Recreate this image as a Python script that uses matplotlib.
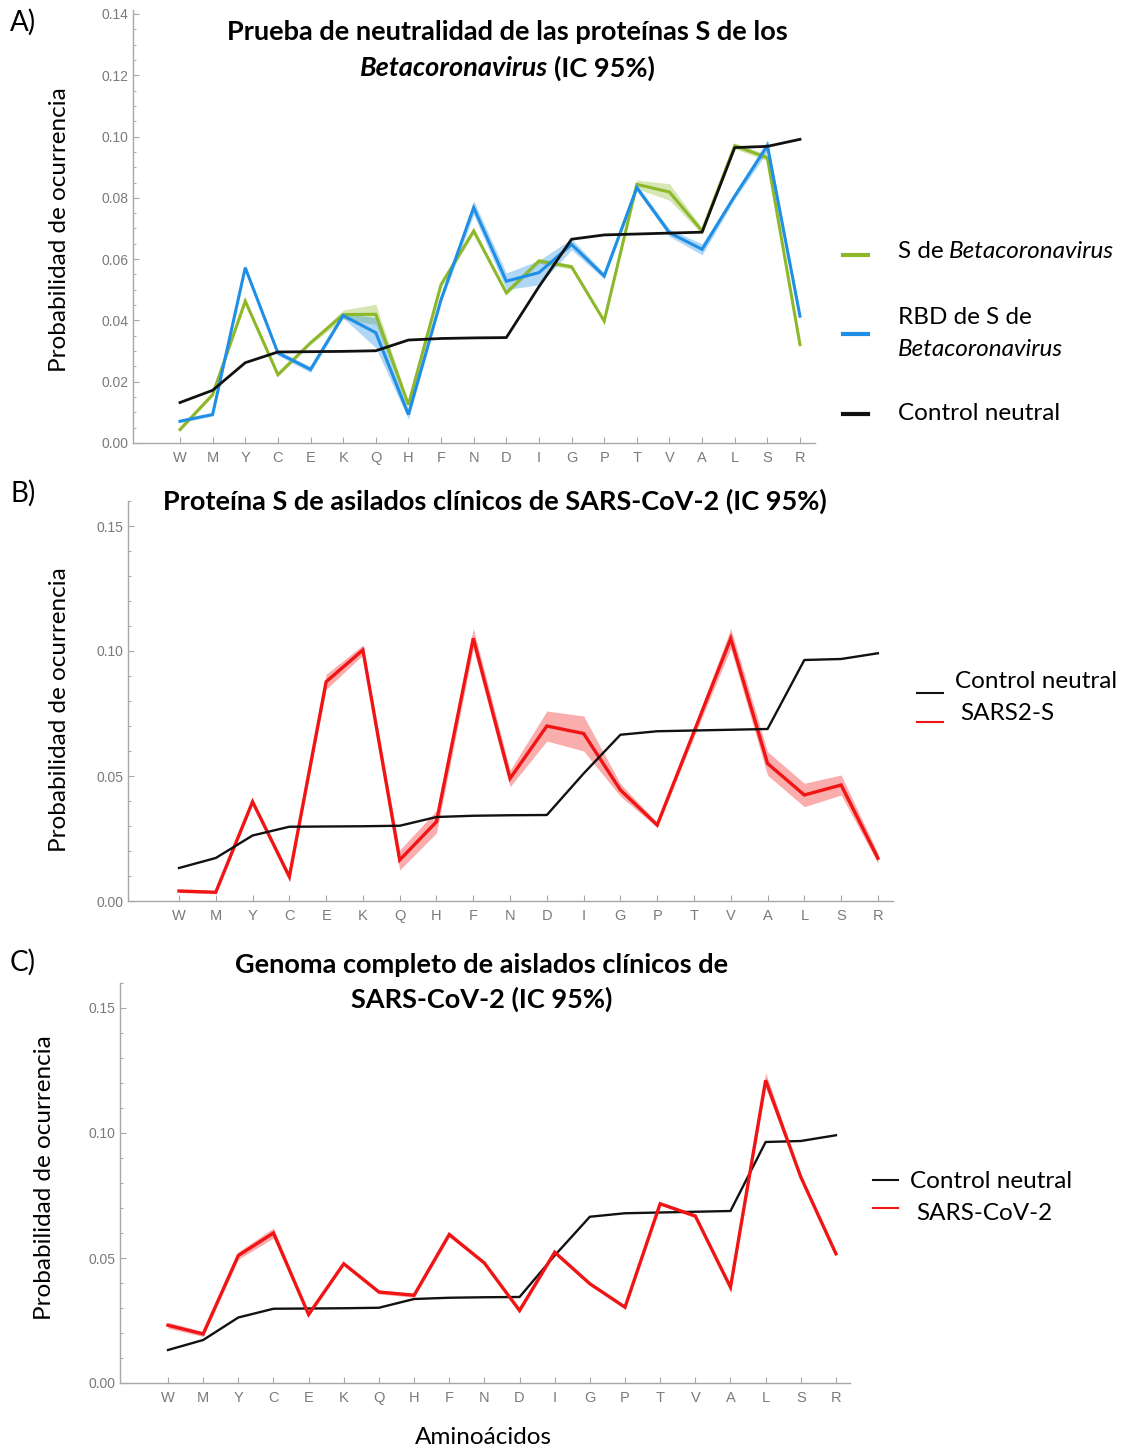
import numpy as np
import matplotlib
matplotlib.use('Agg')
import matplotlib.pyplot as plt
from matplotlib.ticker import MultipleLocator

# amino acids (x axis, same order in the three panels)
aa = ['W', 'M', 'Y', 'C', 'E', 'K', 'Q', 'H', 'F', 'N',
      'D', 'I', 'G', 'P', 'T', 'V', 'A', 'L', 'S', 'R']

# neutral control (same in the three panels)
control = [0.0132, 0.0172, 0.0262, 0.0297, 0.0298, 0.0299, 0.0301, 0.0336, 0.0341, 0.0343,
           0.0344, 0.0510, 0.0665, 0.0679, 0.0682, 0.0685, 0.0688, 0.0964, 0.0968, 0.0991]

# panel A: S of Betacoronavirus and its RBD (mean and CI half width)
beta_s = [0.0044, 0.0158, 0.0463, 0.0223, 0.0327, 0.0419, 0.0420, 0.0125, 0.0517, 0.0692,
          0.0490, 0.0594, 0.0575, 0.0398, 0.0844, 0.0819, 0.0692, 0.0970, 0.0931, 0.0321]
beta_s_ci = [0.0006, 0.0006, 0.0008, 0.0006, 0.0006, 0.0015, 0.0033, 0.0008, 0.0008, 0.0010,
             0.0008, 0.0008, 0.0008, 0.0006, 0.0014, 0.0027, 0.0010, 0.0010, 0.0010, 0.0006]
beta_rbd = [0.0071, 0.0093, 0.0572, 0.0294, 0.0240, 0.0416, 0.0360, 0.0093, 0.0468, 0.0768,
            0.0528, 0.0556, 0.0648, 0.0545, 0.0833, 0.0686, 0.0632, 0.0806, 0.0970, 0.0414]
beta_rbd_ci = [0.0005, 0.0005, 0.0008, 0.0008, 0.0010, 0.0008, 0.0049, 0.0015, 0.0010, 0.0023,
               0.0027, 0.0040, 0.0018, 0.0010, 0.0010, 0.0012, 0.0018, 0.0010, 0.0020, 0.0010]

# panel B: S protein of SARS-CoV-2 clinical isolates
sars2_s = [0.0040, 0.0035, 0.0397, 0.0097, 0.0877, 0.1004, 0.0164, 0.0317, 0.1051, 0.0490,
           0.0700, 0.0670, 0.0444, 0.0304, 0.0677, 0.1050, 0.0550, 0.0424, 0.0464, 0.0171]
sars2_s_ci = [0.0006, 0.0006, 0.0010, 0.0012, 0.0030, 0.0020, 0.0040, 0.0045, 0.0040, 0.0033,
              0.0060, 0.0070, 0.0025, 0.0010, 0.0020, 0.0040, 0.0047, 0.0047, 0.0040, 0.0020]

# panel C: complete genome of SARS-CoV-2 clinical isolates
sars2_g = [0.0231, 0.0196, 0.0510, 0.0600, 0.0274, 0.0477, 0.0364, 0.0351, 0.0594, 0.0480,
           0.0290, 0.0523, 0.0397, 0.0303, 0.0717, 0.0668, 0.0383, 0.1211, 0.0824, 0.0517]
sars2_g_ci = [0.0012, 0.0010, 0.0015, 0.0020, 0.0006, 0.0006, 0.0008, 0.0008, 0.0010, 0.0006,
              0.0008, 0.0008, 0.0006, 0.0004, 0.0006, 0.0008, 0.0008, 0.0030, 0.0010, 0.0008]

W, H = 1137, 1450
fig = plt.figure(figsize=(W / 100, H / 100), dpi=100)
renderer = fig.canvas.get_renderer()

FONT = ['Lato', 'DejaVu Sans']
TICKFONT = ['Liberation Sans', 'DejaVu Sans']
GREEN = '#8cb829'
BLUE = '#1f8fe6'
RED = '#f01414'
BLACK = '#111111'
TITLE_SIZE = 19.5
TEXT_SIZE = 17.5


def px_axes(l, t, r, b):
    return fig.add_axes([l / W, 1 - b / H, (r - l) / W, (b - t) / H])


def rich(x, y, parts, size, weight='normal', center=False):
    # draw text pieces one after the other, pieces are (text, style)
    texts = []
    cur = 0
    gap = size * 1.389 * 0.22
    for s, style in parts:
        t = fig.text(0, 1 - y / H, s, fontsize=size, family=FONT, weight=weight,
                     style=style, va='center', ha='left')
        w = t.get_window_extent(renderer).width
        texts.append((t, cur))
        cur += w + gap
    total = cur - gap
    x0 = x - total / 2 if center else x
    for t, off in texts:
        t.set_x((x0 + off) / W)


def style_axes(ax, xlim, ylim, major, minor):
    ax.set_xlim(*xlim)
    ax.set_ylim(*ylim)
    for s in ['top', 'right']:
        ax.spines[s].set_visible(False)
    for s in ['left', 'bottom']:
        ax.spines[s].set_color('#a8a8a8')
        ax.spines[s].set_linewidth(1.0)
    ax.set_xticks(range(len(aa)))
    ax.set_xticklabels(aa)
    ax.yaxis.set_major_locator(MultipleLocator(major))
    ax.yaxis.set_minor_locator(MultipleLocator(minor))
    ax.yaxis.set_major_formatter(plt.FormatStrFormatter('%.2f'))
    ax.tick_params(direction='in', colors='#a8a8a8', labelcolor='#7a7a7a',
                   labelsize=10, length=4, width=0.8)
    ax.tick_params(which='minor', direction='in', colors='#a8a8a8', length=2.5, width=0.7)
    ax.tick_params(axis='x', pad=6, labelsize=10.5)
    for lab in ax.get_xticklabels() + ax.get_yticklabels():
        lab.set_family(TICKFONT)


def band(ax, y, ci, color, lw=2.0):
    x = np.arange(len(aa))
    y = np.array(y)
    ci = np.array(ci)
    ax.fill_between(x, y - ci, y + ci, color=color, alpha=0.35, lw=0)
    ax.plot(x, y, color=color, lw=lw, solid_joinstyle='miter')


# ---------- panel A ----------
axA = px_axes(133, 10, 815, 443)
style_axes(axA, (-1.44, 19.46), (0, 0.1413), 0.02, 0.005)
band(axA, beta_s, beta_s_ci, GREEN, lw=2.2)
band(axA, beta_rbd, beta_rbd_ci, BLUE, lw=2.2)
axA.plot(range(len(aa)), control, color=BLACK, lw=2.0)

# ---------- panel B ----------
axB = px_axes(128, 501, 893, 901)
style_axes(axB, (-1.386, 19.41), (0, 0.16), 0.05, 0.01)
band(axB, sars2_s, sars2_s_ci, RED, lw=2.4)
axB.plot(range(len(aa)), control, color=BLACK, lw=1.7)

# ---------- panel C ----------
axC = px_axes(120, 983, 850, 1383)
style_axes(axC, (-1.365, 19.40), (0, 0.16), 0.05, 0.01)
axC.plot(range(len(aa)), control, color=BLACK, lw=1.7)
band(axC, sars2_g, sars2_g_ci, RED, lw=2.4)

# titles
rich(507, 32, [('Prueba de neutralidad de las proteínas S de los', 'normal')], TITLE_SIZE, 'bold', center=True)
rich(507, 68, [('Betacoronavirus', 'italic'), ('(IC 95%)', 'normal')], TITLE_SIZE, 'bold', center=True)
rich(495, 501, [('Proteína S de asilados clínicos de SARS-CoV-2 (IC 95%)', 'normal')], TITLE_SIZE, 'bold', center=True)
rich(482, 965, [('Genoma completo de aislados clínicos de', 'normal')], TITLE_SIZE, 'bold', center=True)
rich(482, 999, [('SARS-CoV-2 (IC 95%)', 'normal')], TITLE_SIZE, 'bold', center=True)

# panel letters
for lab, yy in [('A)', 22), ('B)', 493), ('C)', 962)]:
    fig.text(10 / W, 1 - yy / H, lab, fontsize=20, family=FONT, va='center', ha='left')

# y labels
for yy, xx in [(230, 60), (710, 60), (1178, 45)]:
    fig.text(xx / W, 1 - yy / H, 'Probabilidad de ocurrencia', fontsize=TEXT_SIZE, family=FONT,
             rotation=90, va='center', ha='center')

fig.text(483 / W, 1 - 1437 / H, 'Aminoácidos', fontsize=TEXT_SIZE, family=FONT, va='center', ha='center')


# legends drawn by hand
def leg_line(x0, x1, y, color, lw=3):
    fig.add_artist(plt.Line2D([x0 / W, x1 / W], [1 - y / H, 1 - y / H], color=color, lw=lw))


leg_line(843, 868, 255, GREEN)
rich(898, 252, [('S de', 'normal'), ('Betacoronavirus', 'italic')], TEXT_SIZE)
leg_line(843, 868, 334, BLUE)
rich(898, 317, [('RBD de S de', 'normal')], TEXT_SIZE)
rich(898, 349, [('Betacoronavirus', 'italic')], TEXT_SIZE)
leg_line(843, 868, 414, BLACK)
rich(898, 413, [('Control neutral', 'normal')], TEXT_SIZE)

leg_line(917, 943, 693, BLACK, lw=1.5)
rich(955, 682, [('Control neutral', 'normal')], TEXT_SIZE)
leg_line(917, 943, 722, RED, lw=1.5)
rich(960, 714, [('SARS2-S', 'normal')], TEXT_SIZE)

leg_line(873, 898, 1180, BLACK, lw=1.5)
rich(910, 1182, [('Control neutral', 'normal')], TEXT_SIZE)
leg_line(873, 898, 1208, RED, lw=1.5)
rich(916, 1214, [('SARS-CoV-2', 'normal')], TEXT_SIZE)

plt.savefig('out.png', dpi=100)
